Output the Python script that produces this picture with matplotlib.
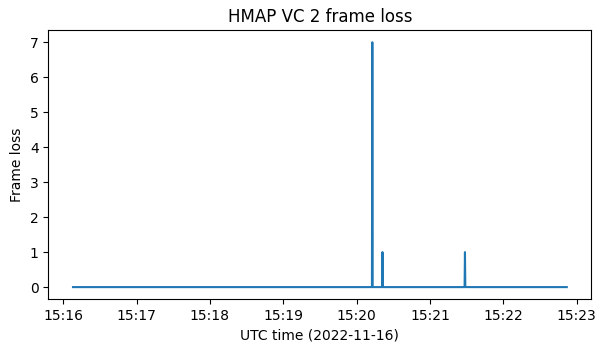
import matplotlib
matplotlib.use("Agg")
import matplotlib.pyplot as plt
import matplotlib.dates as mdates
import pandas as pd

times = ["15:16:08.0", "15:20:12.6", "15:20:12.9", "15:20:13.2", "15:20:20.9", "15:20:21.2",
         "15:20:21.5", "15:21:28.4", "15:21:28.7", "15:21:29.0", "15:22:52.0"]
frame_loss = [0, 0, 7, 0, 0, 1, 0, 0, 1, 0, 0]

t = pd.to_datetime(["2022-11-16 " + s for s in times])

fig = plt.figure(figsize=(6.06, 3.53), dpi=100)
ax = fig.add_axes([0.0797, 0.152, 0.8963, 0.763])
ax.plot(t, frame_loss)
ax.xaxis.set_major_formatter(mdates.DateFormatter("%H:%M"))
ax.set_title("HMAP VC 2 frame loss")
ax.set_xlabel("UTC time (2022-11-16)")
ax.set_ylabel("Frame loss")
fig.savefig("out.png", dpi=100)
